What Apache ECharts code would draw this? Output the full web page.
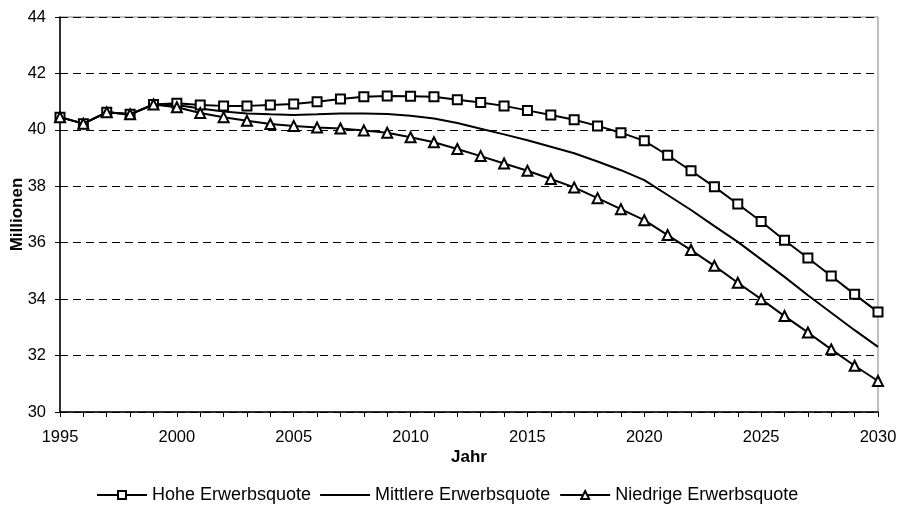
<!DOCTYPE html>
<html>
<head>
<meta charset="utf-8">
<script src="https://cdn.jsdelivr.net/npm/echarts@6/dist/echarts.min.js"></script>
<style>
html,body{margin:0;padding:0;background:#fff;}
#chart{width:897px;height:505px;}
</style>
</head>
<body>
<div id="chart"></div>
<script>
var years = [1995,1996,1997,1998,1999,2000,2001,2002,2003,2004,2005,2006,2007,2008,2009,2010,2011,2012,2013,2014,2015,2016,2017,2018,2019,2020,2021,2022,2023,2024,2025,2026,2027,2028,2029,2030];
var hohe = [40.45,40.22,40.62,40.55,40.9,40.94,40.88,40.85,40.85,40.88,40.92,41.0,41.09,41.17,41.2,41.19,41.17,41.07,40.97,40.85,40.69,40.53,40.36,40.14,39.9,39.61,39.1,38.55,37.98,37.37,36.75,36.09,35.46,34.82,34.17,33.54];
var mittlere = [40.45,40.22,40.62,40.55,40.9,40.88,40.76,40.65,40.58,40.55,40.53,40.55,40.58,40.58,40.56,40.5,40.4,40.24,40.04,39.84,39.63,39.4,39.17,38.88,38.57,38.22,37.69,37.16,36.59,36.03,35.41,34.79,34.14,33.52,32.9,32.31];
var niedrige = [40.45,40.22,40.62,40.55,40.9,40.8,40.6,40.45,40.32,40.21,40.14,40.08,40.05,39.98,39.9,39.74,39.56,39.32,39.07,38.81,38.55,38.26,37.96,37.58,37.19,36.8,36.27,35.74,35.18,34.58,34.0,33.4,32.82,32.22,31.64,31.1];
var seriesNames = ['Hohe Erwerbsquote','Mittlere Erwerbsquote','Niedrige Erwerbsquote'];
var xTitle = 'Jahr';
var yTitle = 'Millionen';

function pairs(vals){ return years.map(function(y,i){ return [y, vals[i]]; }); }

var font = 'Liberation Sans, Arial, sans-serif';
var chart = echarts.init(document.getElementById('chart'), null, {renderer:'canvas'});
var lineStyle = {color:'#000', width:2};
var itemStyle = {color:'#fff', borderColor:'#000', borderWidth:2};
chart.setOption({
  animation:false,
  backgroundColor:'#fff',
  grid:{left:60, right:19, top:17, bottom:93, containLabel:false, outerBoundsMode:'none',
        show:true, borderColor:'#808080', borderWidth:1, backgroundColor:'transparent'},
  legend:{
    top:481, left:91,
    itemWidth:50, itemHeight:10, itemGap:9,
    textStyle:{fontFamily:font, fontSize:18, color:'#000'},
    data:[
      {name:seriesNames[0]},
      {name:seriesNames[1], icon:'path://M0,0H50V2H0Z'},
      {name:seriesNames[2]}
    ]
  },
  xAxis:{
    type:'value', min:1995, max:2030, interval:5,
    name:xTitle, nameLocation:'middle', nameGap:37, nameMoveOverlap:false,
    nameTextStyle:{fontFamily:font, fontSize:17, fontWeight:'bold', color:'#000'},
    axisLine:{show:true, lineStyle:{color:'#000', width:1.5}},
    axisTick:{show:true, length:5, lineStyle:{color:'#000'}},
    minorTick:{show:true, splitNumber:5, length:5, lineStyle:{color:'#000'}},
    axisLabel:{fontFamily:font, fontSize:16.5, color:'#000', margin:17, formatter:function(v){return String(v);}},
    splitLine:{show:false}
  },
  yAxis:{
    type:'value', min:30, max:44, interval:2,
    name:yTitle, nameLocation:'middle', nameGap:34, nameMoveOverlap:false,
    nameTextStyle:{fontFamily:font, fontSize:17, fontWeight:'bold', color:'#000'},
    axisLine:{show:true, lineStyle:{color:'#000', width:1.5}},
    axisTick:{show:true, length:5, lineStyle:{color:'#000'}},
    axisLabel:{fontFamily:font, fontSize:16.5, color:'#000', margin:14},
    splitLine:{show:true, lineStyle:{color:'#000', type:[8,5], width:1}}
  },
  series:[
    {name:seriesNames[0], type:'line', data:pairs(hohe), symbol:'rect', symbolSize:9, showAllSymbol:true,
     lineStyle:lineStyle, itemStyle:itemStyle, z:3},
    {name:seriesNames[1], type:'line', data:pairs(mittlere), symbol:'none', showSymbol:false,
     lineStyle:lineStyle, itemStyle:{color:'#000'}, z:2},
    {name:seriesNames[2], type:'line', data:pairs(niedrige), symbol:'triangle', symbolSize:10, showAllSymbol:true,
     lineStyle:lineStyle, itemStyle:itemStyle, z:4}
  ]
});
</script>
</body>
</html>
